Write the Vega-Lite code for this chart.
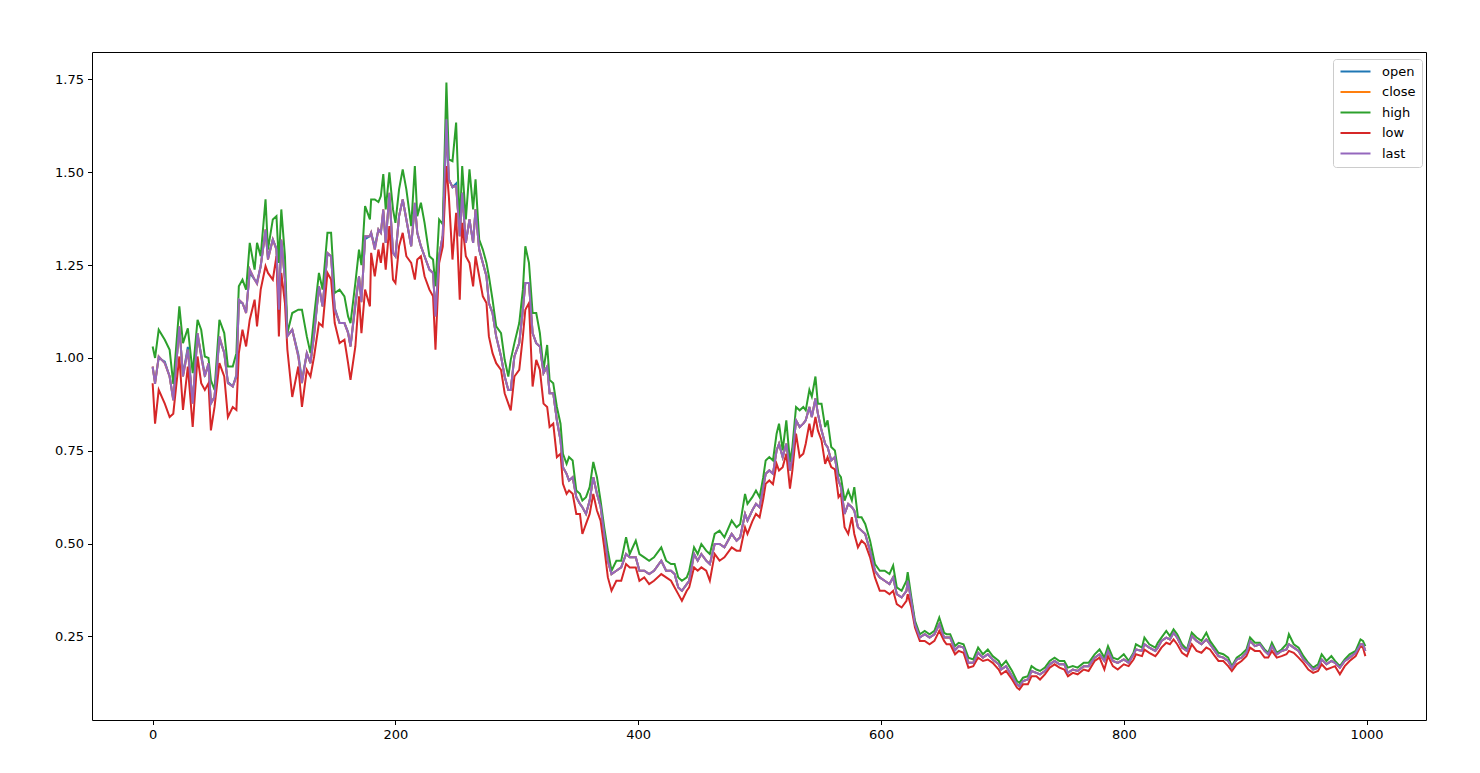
{
"$schema": "https://vega.github.io/schema/vega-lite/v6.json",
"width": 1334, "height": 668,
"autosize": {"type": "none"},
"padding": {"left": 92, "top": 52, "right": 54, "bottom": 53},
"background": "white",
"config": {"view": {"stroke": "black", "strokeWidth": 1}, "font": "DejaVu Sans"},
"data": {"values": [
{"t":0,"open":0.975,"close":0.977,"high":1.031,"low":0.932,"last":0.977},
{"t":2,"open":0.935,"close":0.930,"high":1.000,"low":0.823,"last":0.930},
{"t":5,"open":1.000,"close":1.004,"high":1.076,"low":0.914,"last":1.004},
{"t":10,"open":0.990,"close":0.986,"high":1.049,"low":0.877,"last":0.986},
{"t":14,"open":0.950,"close":0.950,"high":1.022,"low":0.841,"last":0.950},
{"t":17,"open":0.890,"close":0.886,"high":0.930,"low":0.850,"last":0.886},
{"t":22,"open":1.080,"close":1.085,"high":1.139,"low":1.004,"last":1.085},
{"t":25,"open":0.955,"close":0.950,"high":1.040,"low":0.860,"last":0.950},
{"t":29,"open":1.030,"close":1.022,"high":1.080,"low":0.977,"last":1.022},
{"t":33,"open":0.880,"close":0.877,"high":0.959,"low":0.814,"last":0.877},
{"t":37,"open":1.060,"close":1.067,"high":1.103,"low":1.004,"last":1.067},
{"t":40,"open":1.010,"close":1.004,"high":1.076,"low":0.932,"last":1.004},
{"t":43,"open":0.955,"close":0.950,"high":1.004,"low":0.914,"last":0.950},
{"t":46,"open":0.980,"close":0.986,"high":1.000,"low":0.932,"last":0.986},
{"t":48,"open":0.880,"close":0.877,"high":0.940,"low":0.805,"last":0.877},
{"t":51,"open":0.895,"close":0.895,"high":0.914,"low":0.868,"last":0.895},
{"t":55,"open":1.050,"close":1.058,"high":1.103,"low":0.986,"last":1.058},
{"t":59,"open":1.015,"close":1.013,"high":1.067,"low":0.950,"last":1.013},
{"t":62,"open":0.935,"close":0.932,"high":0.977,"low":0.841,"last":0.932},
{"t":66,"open":0.923,"close":0.923,"high":0.977,"low":0.868,"last":0.923},
{"t":69,"open":0.955,"close":0.950,"high":1.013,"low":0.860,"last":0.950},
{"t":71,"open":1.150,"close":1.157,"high":1.193,"low":1.013,"last":1.157},
{"t":74,"open":1.148,"close":1.148,"high":1.211,"low":1.076,"last":1.148},
{"t":77,"open":1.125,"close":1.121,"high":1.184,"low":1.031,"last":1.121},
{"t":80,"open":1.230,"close":1.238,"high":1.310,"low":1.103,"last":1.238},
{"t":84,"open":1.211,"close":1.211,"high":1.238,"low":1.157,"last":1.211},
{"t":86,"open":1.205,"close":1.200,"high":1.310,"low":1.085,"last":1.200},
{"t":89,"open":1.247,"close":1.247,"high":1.274,"low":1.184,"last":1.247},
{"t":93,"open":1.340,"close":1.346,"high":1.427,"low":1.247,"last":1.346},
{"t":95,"open":1.270,"close":1.265,"high":1.292,"low":1.229,"last":1.265},
{"t":99,"open":1.319,"close":1.319,"high":1.373,"low":1.211,"last":1.319},
{"t":102,"open":1.295,"close":1.292,"high":1.382,"low":1.274,"last":1.292},
{"t":104,"open":1.140,"close":1.130,"high":1.256,"low":1.058,"last":1.130},
{"t":106,"open":1.315,"close":1.319,"high":1.400,"low":1.229,"last":1.319},
{"t":109,"open":1.211,"close":1.211,"high":1.274,"low":1.148,"last":1.211},
{"t":111,"open":1.060,"close":1.058,"high":1.067,"low":1.022,"last":1.058},
{"t":115,"open":1.076,"close":1.076,"high":1.121,"low":0.895,"last":1.076},
{"t":120,"open":1.010,"close":1.004,"high":1.130,"low":0.977,"last":1.004},
{"t":123,"open":0.940,"close":0.932,"high":1.130,"low":0.868,"last":0.932},
{"t":127,"open":1.013,"close":1.013,"high":1.058,"low":0.968,"last":1.013},
{"t":130,"open":0.986,"close":0.986,"high":1.013,"low":0.950,"last":0.986},
{"t":133,"open":1.060,"close":1.067,"high":1.112,"low":1.004,"last":1.067},
{"t":137,"open":1.193,"close":1.193,"high":1.229,"low":1.094,"last":1.193},
{"t":140,"open":1.139,"close":1.139,"high":1.184,"low":1.085,"last":1.139},
{"t":144,"open":1.280,"close":1.283,"high":1.337,"low":1.229,"last":1.283},
{"t":147,"open":1.274,"close":1.274,"high":1.337,"low":1.211,"last":1.274},
{"t":150,"open":1.135,"close":1.130,"high":1.175,"low":1.094,"last":1.130},
{"t":154,"open":1.094,"close":1.094,"high":1.184,"low":1.040,"last":1.094},
{"t":158,"open":1.094,"close":1.094,"high":1.166,"low":1.049,"last":1.094},
{"t":161,"open":1.070,"close":1.067,"high":1.112,"low":0.986,"last":1.067},
{"t":163,"open":1.031,"close":1.031,"high":1.094,"low":0.941,"last":1.031},
{"t":167,"open":1.140,"close":1.148,"high":1.202,"low":1.031,"last":1.148},
{"t":170,"open":1.220,"close":1.220,"high":1.292,"low":1.166,"last":1.220},
{"t":172,"open":1.155,"close":1.150,"high":1.250,"low":1.067,"last":1.150},
{"t":175,"open":1.320,"close":1.328,"high":1.409,"low":1.184,"last":1.328},
{"t":179,"open":1.328,"close":1.328,"high":1.373,"low":1.139,"last":1.328},
{"t":180,"open":1.337,"close":1.337,"high":1.427,"low":1.283,"last":1.337},
{"t":183,"open":1.300,"close":1.292,"high":1.427,"low":1.220,"last":1.292},
{"t":186,"open":1.346,"close":1.346,"high":1.420,"low":1.292,"last":1.346},
{"t":188,"open":1.337,"close":1.337,"high":1.436,"low":1.256,"last":1.337},
{"t":190,"open":1.395,"close":1.400,"high":1.495,"low":1.310,"last":1.400},
{"t":192,"open":1.310,"close":1.310,"high":1.400,"low":1.238,"last":1.310},
{"t":195,"open":1.440,"close":1.445,"high":1.500,"low":1.355,"last":1.445},
{"t":198,"open":1.283,"close":1.283,"high":1.400,"low":1.211,"last":1.283},
{"t":200,"open":1.274,"close":1.274,"high":1.364,"low":1.202,"last":1.274},
{"t":203,"open":1.382,"close":1.382,"high":1.454,"low":1.301,"last":1.382},
{"t":206,"open":1.427,"close":1.427,"high":1.508,"low":1.337,"last":1.427},
{"t":209,"open":1.373,"close":1.373,"high":1.454,"low":1.274,"last":1.373},
{"t":213,"open":1.301,"close":1.301,"high":1.355,"low":1.256,"last":1.301},
{"t":216,"open":1.410,"close":1.418,"high":1.517,"low":1.211,"last":1.418},
{"t":218,"open":1.337,"close":1.337,"high":1.382,"low":1.265,"last":1.337},
{"t":221,"open":1.301,"close":1.301,"high":1.418,"low":1.274,"last":1.301},
{"t":224,"open":1.274,"close":1.274,"high":1.364,"low":1.220,"last":1.274},
{"t":228,"open":1.238,"close":1.238,"high":1.274,"low":1.184,"last":1.238},
{"t":231,"open":1.229,"close":1.229,"high":1.265,"low":1.166,"last":1.229},
{"t":233,"open":1.120,"close":1.112,"high":1.193,"low":1.022,"last":1.112},
{"t":236,"open":1.274,"close":1.274,"high":1.373,"low":1.256,"last":1.274},
{"t":239,"open":1.330,"close":1.330,"high":1.360,"low":1.300,"last":1.330},
{"t":242,"open":1.620,"close":1.643,"high":1.742,"low":1.517,"last":1.643},
{"t":244,"open":1.481,"close":1.481,"high":1.535,"low":1.436,"last":1.481},
{"t":247,"open":1.460,"close":1.460,"high":1.530,"low":1.265,"last":1.460},
{"t":250,"open":1.470,"close":1.463,"high":1.634,"low":1.391,"last":1.463},
{"t":253,"open":1.328,"close":1.328,"high":1.355,"low":1.157,"last":1.328},
{"t":255,"open":1.445,"close":1.445,"high":1.517,"low":1.364,"last":1.445},
{"t":258,"open":1.310,"close":1.310,"high":1.373,"low":1.274,"last":1.310},
{"t":261,"open":1.373,"close":1.373,"high":1.508,"low":1.256,"last":1.373},
{"t":264,"open":1.310,"close":1.310,"high":1.400,"low":1.193,"last":1.310},
{"t":266,"open":1.400,"close":1.400,"high":1.481,"low":1.274,"last":1.400},
{"t":269,"open":1.292,"close":1.292,"high":1.319,"low":1.220,"last":1.292},
{"t":272,"open":1.256,"close":1.256,"high":1.292,"low":1.166,"last":1.256},
{"t":275,"open":1.220,"close":1.220,"high":1.256,"low":1.148,"last":1.220},
{"t":277,"open":1.148,"close":1.148,"high":1.220,"low":1.058,"last":1.148},
{"t":280,"open":1.121,"close":1.121,"high":1.157,"low":1.013,"last":1.121},
{"t":283,"open":1.058,"close":1.058,"high":1.085,"low":0.986,"last":1.058},
{"t":287,"open":1.004,"close":1.004,"high":1.067,"low":0.968,"last":1.004},
{"t":290,"open":0.950,"close":0.950,"high":0.995,"low":0.905,"last":0.950},
{"t":293,"open":0.914,"close":0.914,"high":0.950,"low":0.877,"last":0.914},
{"t":295,"open":0.914,"close":0.914,"high":0.995,"low":0.859,"last":0.914},
{"t":298,"open":1.004,"close":1.004,"high":1.040,"low":0.950,"last":1.004},
{"t":302,"open":1.040,"close":1.040,"high":1.094,"low":0.968,"last":1.040},
{"t":305,"open":1.130,"close":1.130,"high":1.184,"low":1.058,"last":1.130},
{"t":307,"open":1.202,"close":1.202,"high":1.301,"low":1.130,"last":1.202},
{"t":310,"open":1.202,"close":1.202,"high":1.256,"low":1.148,"last":1.202},
{"t":313,"open":1.067,"close":1.067,"high":1.121,"low":0.923,"last":1.067},
{"t":316,"open":1.040,"close":1.040,"high":1.121,"low":0.995,"last":1.040},
{"t":319,"open":1.031,"close":1.031,"high":1.067,"low":0.968,"last":1.031},
{"t":322,"open":0.959,"close":0.959,"high":0.968,"low":0.877,"last":0.959},
{"t":325,"open":0.977,"close":0.977,"high":1.035,"low":0.868,"last":0.977},
{"t":327,"open":0.905,"close":0.905,"high":0.941,"low":0.814,"last":0.905},
{"t":330,"open":0.905,"close":0.905,"high":0.932,"low":0.823,"last":0.905},
{"t":333,"open":0.832,"close":0.832,"high":0.868,"low":0.733,"last":0.832},
{"t":336,"open":0.778,"close":0.778,"high":0.823,"low":0.742,"last":0.778},
{"t":338,"open":0.706,"close":0.706,"high":0.742,"low":0.661,"last":0.706},
{"t":341,"open":0.688,"close":0.688,"high":0.715,"low":0.634,"last":0.688},
{"t":343,"open":0.670,"close":0.670,"high":0.733,"low":0.643,"last":0.670},
{"t":346,"open":0.679,"close":0.679,"high":0.724,"low":0.634,"last":0.679},
{"t":349,"open":0.625,"close":0.625,"high":0.643,"low":0.580,"last":0.625},
{"t":352,"open":0.607,"close":0.607,"high":0.634,"low":0.580,"last":0.607},
{"t":354,"open":0.598,"close":0.598,"high":0.616,"low":0.526,"last":0.598},
{"t":357,"open":0.580,"close":0.580,"high":0.625,"low":0.553,"last":0.580},
{"t":360,"open":0.616,"close":0.616,"high":0.652,"low":0.580,"last":0.616},
{"t":363,"open":0.679,"close":0.679,"high":0.720,"low":0.634,"last":0.679},
{"t":366,"open":0.634,"close":0.634,"high":0.679,"low":0.589,"last":0.634},
{"t":369,"open":0.600,"close":0.600,"high":0.616,"low":0.562,"last":0.600},
{"t":372,"open":0.526,"close":0.526,"high":0.544,"low":0.490,"last":0.526},
{"t":375,"open":0.454,"close":0.454,"high":0.481,"low":0.409,"last":0.454},
{"t":378,"open":0.418,"close":0.418,"high":0.427,"low":0.373,"last":0.418},
{"t":382,"open":0.427,"close":0.427,"high":0.454,"low":0.400,"last":0.427},
{"t":386,"open":0.436,"close":0.436,"high":0.454,"low":0.400,"last":0.436},
{"t":390,"open":0.472,"close":0.472,"high":0.517,"low":0.445,"last":0.472},
{"t":393,"open":0.463,"close":0.463,"high":0.472,"low":0.436,"last":0.463},
{"t":398,"open":0.463,"close":0.463,"high":0.508,"low":0.436,"last":0.463},
{"t":401,"open":0.427,"close":0.427,"high":0.472,"low":0.400,"last":0.427},
{"t":405,"open":0.427,"close":0.427,"high":0.463,"low":0.409,"last":0.427},
{"t":409,"open":0.418,"close":0.418,"high":0.454,"low":0.391,"last":0.418},
{"t":413,"open":0.427,"close":0.427,"high":0.463,"low":0.400,"last":0.427},
{"t":419,"open":0.454,"close":0.454,"high":0.490,"low":0.418,"last":0.454},
{"t":423,"open":0.427,"close":0.427,"high":0.454,"low":0.409,"last":0.427},
{"t":427,"open":0.427,"close":0.427,"high":0.445,"low":0.400,"last":0.427},
{"t":430,"open":0.418,"close":0.418,"high":0.445,"low":0.382,"last":0.418},
{"t":433,"open":0.382,"close":0.382,"high":0.409,"low":0.364,"last":0.382},
{"t":436,"open":0.373,"close":0.373,"high":0.400,"low":0.346,"last":0.373},
{"t":440,"open":0.391,"close":0.391,"high":0.409,"low":0.373,"last":0.391},
{"t":442,"open":0.400,"close":0.400,"high":0.427,"low":0.382,"last":0.400},
{"t":446,"open":0.472,"close":0.472,"high":0.490,"low":0.436,"last":0.472},
{"t":449,"open":0.454,"close":0.454,"high":0.472,"low":0.427,"last":0.454},
{"t":452,"open":0.472,"close":0.472,"high":0.499,"low":0.436,"last":0.472},
{"t":456,"open":0.454,"close":0.454,"high":0.481,"low":0.427,"last":0.454},
{"t":459,"open":0.445,"close":0.445,"high":0.472,"low":0.400,"last":0.445},
{"t":463,"open":0.499,"close":0.499,"high":0.526,"low":0.472,"last":0.499},
{"t":467,"open":0.499,"close":0.499,"high":0.535,"low":0.454,"last":0.499},
{"t":471,"open":0.490,"close":0.490,"high":0.517,"low":0.463,"last":0.490},
{"t":477,"open":0.526,"close":0.526,"high":0.562,"low":0.490,"last":0.526},
{"t":481,"open":0.508,"close":0.508,"high":0.544,"low":0.481,"last":0.508},
{"t":484,"open":0.517,"close":0.517,"high":0.553,"low":0.481,"last":0.517},
{"t":488,"open":0.580,"close":0.580,"high":0.634,"low":0.544,"last":0.580},
{"t":490,"open":0.562,"close":0.562,"high":0.607,"low":0.526,"last":0.562},
{"t":494,"open":0.590,"close":0.590,"high":0.625,"low":0.560,"last":0.590},
{"t":497,"open":0.607,"close":0.607,"high":0.643,"low":0.580,"last":0.607},
{"t":500,"open":0.598,"close":0.598,"high":0.625,"low":0.571,"last":0.598},
{"t":503,"open":0.652,"close":0.652,"high":0.679,"low":0.620,"last":0.652},
{"t":505,"open":0.688,"close":0.688,"high":0.724,"low":0.661,"last":0.688},
{"t":508,"open":0.697,"close":0.697,"high":0.733,"low":0.670,"last":0.697},
{"t":511,"open":0.688,"close":0.688,"high":0.724,"low":0.660,"last":0.688},
{"t":514,"open":0.751,"close":0.751,"high":0.796,"low":0.715,"last":0.751},
{"t":516,"open":0.769,"close":0.769,"high":0.823,"low":0.697,"last":0.769},
{"t":519,"open":0.733,"close":0.733,"high":0.751,"low":0.706,"last":0.733},
{"t":522,"open":0.769,"close":0.769,"high":0.832,"low":0.742,"last":0.769},
{"t":525,"open":0.697,"close":0.697,"high":0.720,"low":0.648,"last":0.697},
{"t":527,"open":0.733,"close":0.733,"high":0.760,"low":0.697,"last":0.733},
{"t":530,"open":0.832,"close":0.832,"high":0.868,"low":0.796,"last":0.832},
{"t":533,"open":0.814,"close":0.814,"high":0.859,"low":0.733,"last":0.814},
{"t":536,"open":0.823,"close":0.823,"high":0.868,"low":0.742,"last":0.823},
{"t":538,"open":0.832,"close":0.832,"high":0.859,"low":0.769,"last":0.832},
{"t":541,"open":0.868,"close":0.868,"high":0.914,"low":0.823,"last":0.868},
{"t":543,"open":0.841,"close":0.841,"high":0.896,"low":0.787,"last":0.841},
{"t":546,"open":0.891,"close":0.891,"high":0.950,"low":0.841,"last":0.891},
{"t":548,"open":0.850,"close":0.850,"high":0.877,"low":0.805,"last":0.850},
{"t":551,"open":0.805,"close":0.805,"high":0.877,"low":0.778,"last":0.805},
{"t":554,"open":0.769,"close":0.769,"high":0.814,"low":0.715,"last":0.769},
{"t":556,"open":0.760,"close":0.760,"high":0.832,"low":0.733,"last":0.760},
{"t":559,"open":0.724,"close":0.724,"high":0.760,"low":0.706,"last":0.724},
{"t":562,"open":0.733,"close":0.733,"high":0.751,"low":0.700,"last":0.733},
{"t":565,"open":0.670,"close":0.670,"high":0.688,"low":0.625,"last":0.670},
{"t":567,"open":0.652,"close":0.652,"high":0.679,"low":0.634,"last":0.652},
{"t":570,"open":0.580,"close":0.580,"high":0.616,"low":0.544,"last":0.580},
{"t":573,"open":0.607,"close":0.607,"high":0.643,"low":0.526,"last":0.607},
{"t":576,"open":0.598,"close":0.598,"high":0.616,"low":0.571,"last":0.598},
{"t":578,"open":0.589,"close":0.589,"high":0.652,"low":0.526,"last":0.589},
{"t":581,"open":0.544,"close":0.544,"high":0.571,"low":0.490,"last":0.544},
{"t":584,"open":0.535,"close":0.535,"high":0.571,"low":0.508,"last":0.535},
{"t":587,"open":0.526,"close":0.526,"high":0.553,"low":0.499,"last":0.526},
{"t":591,"open":0.481,"close":0.481,"high":0.508,"low":0.463,"last":0.481},
{"t":595,"open":0.427,"close":0.427,"high":0.445,"low":0.409,"last":0.427},
{"t":599,"open":0.409,"close":0.409,"high":0.427,"low":0.373,"last":0.409},
{"t":603,"open":0.400,"close":0.400,"high":0.427,"low":0.373,"last":0.400},
{"t":607,"open":0.391,"close":0.391,"high":0.418,"low":0.364,"last":0.391},
{"t":610,"open":0.409,"close":0.409,"high":0.441,"low":0.373,"last":0.409},
{"t":613,"open":0.364,"close":0.364,"high":0.382,"low":0.337,"last":0.364},
{"t":617,"open":0.355,"close":0.355,"high":0.373,"low":0.328,"last":0.355},
{"t":621,"open":0.373,"close":0.373,"high":0.400,"low":0.346,"last":0.373},
{"t":622,"open":0.400,"close":0.400,"high":0.423,"low":0.364,"last":0.400},
{"t":625,"open":0.346,"close":0.346,"high":0.355,"low":0.328,"last":0.346},
{"t":628,"open":0.283,"close":0.283,"high":0.292,"low":0.274,"last":0.283},
{"t":632,"open":0.247,"close":0.247,"high":0.256,"low":0.238,"last":0.247},
{"t":636,"open":0.256,"close":0.256,"high":0.265,"low":0.238,"last":0.256},
{"t":640,"open":0.247,"close":0.247,"high":0.256,"low":0.229,"last":0.247},
{"t":644,"open":0.256,"close":0.256,"high":0.265,"low":0.238,"last":0.256},
{"t":648,"open":0.283,"close":0.283,"high":0.301,"low":0.265,"last":0.283},
{"t":652,"open":0.247,"close":0.247,"high":0.260,"low":0.238,"last":0.247},
{"t":654,"open":0.247,"close":0.247,"high":0.256,"low":0.229,"last":0.247},
{"t":657,"open":0.247,"close":0.247,"high":0.256,"low":0.229,"last":0.247},
{"t":661,"open":0.213,"close":0.213,"high":0.224,"low":0.202,"last":0.213},
{"t":664,"open":0.224,"close":0.224,"high":0.233,"low":0.211,"last":0.224},
{"t":668,"open":0.220,"close":0.220,"high":0.229,"low":0.206,"last":0.220},
{"t":672,"open":0.179,"close":0.179,"high":0.193,"low":0.166,"last":0.179},
{"t":676,"open":0.179,"close":0.179,"high":0.188,"low":0.170,"last":0.179},
{"t":680,"open":0.206,"close":0.206,"high":0.220,"low":0.193,"last":0.206},
{"t":684,"open":0.193,"close":0.193,"high":0.202,"low":0.184,"last":0.193},
{"t":688,"open":0.202,"close":0.202,"high":0.215,"low":0.188,"last":0.202},
{"t":692,"open":0.188,"close":0.188,"high":0.197,"low":0.179,"last":0.188},
{"t":697,"open":0.175,"close":0.175,"high":0.184,"low":0.161,"last":0.175},
{"t":699,"open":0.161,"close":0.161,"high":0.170,"low":0.148,"last":0.161},
{"t":703,"open":0.170,"close":0.170,"high":0.184,"low":0.157,"last":0.170},
{"t":708,"open":0.143,"close":0.143,"high":0.157,"low":0.134,"last":0.143},
{"t":712,"open":0.121,"close":0.121,"high":0.130,"low":0.112,"last":0.121},
{"t":714,"open":0.116,"close":0.116,"high":0.125,"low":0.107,"last":0.116},
{"t":717,"open":0.130,"close":0.130,"high":0.139,"low":0.121,"last":0.130},
{"t":721,"open":0.134,"close":0.134,"high":0.143,"low":0.121,"last":0.134},
{"t":724,"open":0.157,"close":0.157,"high":0.170,"low":0.143,"last":0.157},
{"t":728,"open":0.152,"close":0.152,"high":0.161,"low":0.143,"last":0.152},
{"t":731,"open":0.148,"close":0.148,"high":0.157,"low":0.134,"last":0.148},
{"t":735,"open":0.157,"close":0.157,"high":0.166,"low":0.148,"last":0.157},
{"t":739,"open":0.175,"close":0.175,"high":0.184,"low":0.166,"last":0.175},
{"t":743,"open":0.184,"close":0.184,"high":0.193,"low":0.175,"last":0.184},
{"t":747,"open":0.175,"close":0.175,"high":0.184,"low":0.166,"last":0.175},
{"t":751,"open":0.175,"close":0.175,"high":0.184,"low":0.161,"last":0.175},
{"t":754,"open":0.152,"close":0.152,"high":0.166,"low":0.143,"last":0.152},
{"t":758,"open":0.161,"close":0.161,"high":0.170,"low":0.152,"last":0.161},
{"t":762,"open":0.157,"close":0.157,"high":0.166,"low":0.148,"last":0.157},
{"t":767,"open":0.170,"close":0.170,"high":0.179,"low":0.161,"last":0.170},
{"t":771,"open":0.170,"close":0.170,"high":0.179,"low":0.157,"last":0.170},
{"t":776,"open":0.193,"close":0.193,"high":0.202,"low":0.184,"last":0.193},
{"t":780,"open":0.202,"close":0.202,"high":0.215,"low":0.193,"last":0.202},
{"t":784,"open":0.184,"close":0.184,"high":0.193,"low":0.161,"last":0.184},
{"t":787,"open":0.211,"close":0.211,"high":0.224,"low":0.197,"last":0.211},
{"t":791,"open":0.184,"close":0.184,"high":0.193,"low":0.170,"last":0.184},
{"t":795,"open":0.179,"close":0.179,"high":0.188,"low":0.161,"last":0.179},
{"t":800,"open":0.188,"close":0.188,"high":0.202,"low":0.175,"last":0.188},
{"t":804,"open":0.179,"close":0.179,"high":0.184,"low":0.170,"last":0.179},
{"t":808,"open":0.202,"close":0.202,"high":0.206,"low":0.188,"last":0.202},
{"t":810,"open":0.215,"close":0.215,"high":0.229,"low":0.202,"last":0.215},
{"t":815,"open":0.211,"close":0.211,"high":0.220,"low":0.197,"last":0.211},
{"t":817,"open":0.229,"close":0.229,"high":0.247,"low":0.215,"last":0.229},
{"t":821,"open":0.220,"close":0.220,"high":0.229,"low":0.206,"last":0.220},
{"t":826,"open":0.211,"close":0.211,"high":0.220,"low":0.197,"last":0.211},
{"t":828,"open":0.220,"close":0.220,"high":0.233,"low":0.205,"last":0.220},
{"t":831,"open":0.238,"close":0.238,"high":0.247,"low":0.220,"last":0.238},
{"t":835,"open":0.247,"close":0.247,"high":0.265,"low":0.233,"last":0.247},
{"t":838,"open":0.242,"close":0.242,"high":0.251,"low":0.229,"last":0.242},
{"t":841,"open":0.260,"close":0.260,"high":0.269,"low":0.242,"last":0.260},
{"t":844,"open":0.247,"close":0.247,"high":0.256,"low":0.229,"last":0.247},
{"t":848,"open":0.220,"close":0.220,"high":0.229,"low":0.206,"last":0.220},
{"t":852,"open":0.211,"close":0.211,"high":0.215,"low":0.197,"last":0.211},
{"t":856,"open":0.251,"close":0.251,"high":0.260,"low":0.229,"last":0.251},
{"t":860,"open":0.238,"close":0.238,"high":0.247,"low":0.211,"last":0.238},
{"t":864,"open":0.229,"close":0.229,"high":0.238,"low":0.206,"last":0.229},
{"t":868,"open":0.242,"close":0.242,"high":0.260,"low":0.220,"last":0.242},
{"t":871,"open":0.229,"close":0.229,"high":0.238,"low":0.215,"last":0.229},
{"t":875,"open":0.211,"close":0.211,"high":0.220,"low":0.197,"last":0.211},
{"t":878,"open":0.197,"close":0.197,"high":0.206,"low":0.184,"last":0.197},
{"t":882,"open":0.193,"close":0.193,"high":0.202,"low":0.184,"last":0.193},
{"t":886,"open":0.184,"close":0.184,"high":0.193,"low":0.170,"last":0.184},
{"t":889,"open":0.166,"close":0.166,"high":0.170,"low":0.157,"last":0.166},
{"t":893,"open":0.188,"close":0.188,"high":0.193,"low":0.175,"last":0.188},
{"t":897,"open":0.193,"close":0.193,"high":0.202,"low":0.184,"last":0.193},
{"t":901,"open":0.206,"close":0.206,"high":0.215,"low":0.197,"last":0.206},
{"t":904,"open":0.238,"close":0.238,"high":0.247,"low":0.220,"last":0.238},
{"t":908,"open":0.224,"close":0.224,"high":0.233,"low":0.211,"last":0.224},
{"t":912,"open":0.229,"close":0.229,"high":0.233,"low":0.211,"last":0.229},
{"t":916,"open":0.211,"close":0.211,"high":0.215,"low":0.193,"last":0.211},
{"t":919,"open":0.202,"close":0.202,"high":0.206,"low":0.193,"last":0.202},
{"t":922,"open":0.224,"close":0.224,"high":0.233,"low":0.211,"last":0.224},
{"t":926,"open":0.202,"close":0.202,"high":0.206,"low":0.193,"last":0.202},
{"t":930,"open":0.211,"close":0.211,"high":0.215,"low":0.197,"last":0.211},
{"t":934,"open":0.215,"close":0.215,"high":0.229,"low":0.202,"last":0.215},
{"t":936,"open":0.229,"close":0.229,"high":0.256,"low":0.211,"last":0.229},
{"t":940,"open":0.220,"close":0.220,"high":0.229,"low":0.206,"last":0.220},
{"t":944,"open":0.211,"close":0.211,"high":0.220,"low":0.193,"last":0.211},
{"t":948,"open":0.188,"close":0.188,"high":0.197,"low":0.179,"last":0.188},
{"t":952,"open":0.175,"close":0.175,"high":0.179,"low":0.161,"last":0.175},
{"t":956,"open":0.161,"close":0.161,"high":0.166,"low":0.152,"last":0.161},
{"t":960,"open":0.166,"close":0.166,"high":0.175,"low":0.157,"last":0.166},
{"t":963,"open":0.188,"close":0.188,"high":0.202,"low":0.175,"last":0.188},
{"t":967,"open":0.175,"close":0.175,"high":0.184,"low":0.161,"last":0.175},
{"t":971,"open":0.184,"close":0.184,"high":0.197,"low":0.166,"last":0.184},
{"t":974,"open":0.179,"close":0.179,"high":0.184,"low":0.170,"last":0.179},
{"t":978,"open":0.166,"close":0.166,"high":0.170,"low":0.148,"last":0.166},
{"t":982,"open":0.184,"close":0.184,"high":0.188,"low":0.170,"last":0.184},
{"t":986,"open":0.193,"close":0.193,"high":0.202,"low":0.184,"last":0.193},
{"t":991,"open":0.206,"close":0.206,"high":0.211,"low":0.197,"last":0.206},
{"t":995,"open":0.229,"close":0.229,"high":0.242,"low":0.224,"last":0.229},
{"t":997,"open":0.229,"close":0.229,"high":0.238,"low":0.220,"last":0.229},
{"t":999,"open":0.211,"close":0.211,"high":0.224,"low":0.197,"last":0.211}
]},
"transform": [{"fold": ["open", "close", "high", "low", "last"], "as": ["series", "value"]}],
"encoding": {
"x": {"field": "t", "type": "quantitative",
 "scale": {"domain": [-49.95, 1048.95], "nice": false, "zero": false},
 "axis": {"values": [0, 200, 400, 600, 800, 1000], "format": "d", "grid": false, "title": null, "domain": false,
  "tickColor": "black", "tickSize": 4.5, "tickWidth": 1, "labelFontSize": 13, "labelColor": "black", "labelFont": "DejaVu Sans", "labelPadding": 4, "labelFlush": false}},
"y": {"field": "value", "type": "quantitative",
 "scale": {"domain": [0.025, 1.824], "nice": false, "zero": false},
 "axis": {"values": [0.25, 0.5, 0.75, 1.0, 1.25, 1.5, 1.75], "format": ".2f", "grid": false, "title": null, "domain": false,
  "tickColor": "black", "tickSize": 4.5, "tickWidth": 1, "labelFontSize": 13, "labelColor": "black", "labelFont": "DejaVu Sans", "labelPadding": 4, "labelFlush": false}},
"color": {"field": "series", "type": "nominal",
 "scale": {"domain": ["open", "close", "high", "low", "last"], "range": ["#1f77b4", "#ff7f0e", "#2ca02c", "#d62728", "#9467bd"]},
 "legend": {"title": null, "orient": "none", "legendX": 1241, "legendY": 7, "symbolType": "M-3,0H3", "symbolSize": 100, "symbolStrokeWidth": 2, "symbolOffset": 10,
  "labelFont": "DejaVu Sans", "labelFontSize": 13, "labelColor": "black", "labelOffset": 20, "rowPadding": 6.5, "padding": 6,
  "fillColor": "rgba(255,255,255,0.8)", "strokeColor": "#cccccc", "cornerRadius": 3}}
},
"layer": [
 {"transform": [{"filter": "datum.series === 'open'"}], "mark": {"type": "line", "strokeWidth": 2, "clip": true}},
 {"transform": [{"filter": "datum.series === 'close'"}], "mark": {"type": "line", "strokeWidth": 2, "clip": true}},
 {"transform": [{"filter": "datum.series === 'high'"}], "mark": {"type": "line", "strokeWidth": 2, "clip": true}},
 {"transform": [{"filter": "datum.series === 'low'"}], "mark": {"type": "line", "strokeWidth": 2, "clip": true}},
 {"transform": [{"filter": "datum.series === 'last'"}], "mark": {"type": "line", "strokeWidth": 2, "clip": true}}
]
}
